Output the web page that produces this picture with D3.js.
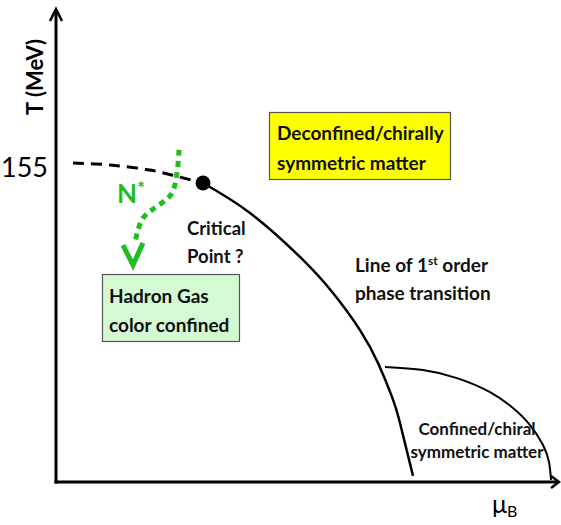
<!DOCTYPE html>
<html>
<head>
<meta charset="utf-8">
<script src="https://cdn.jsdelivr.net/npm/d3@7"></script>
<style>
  body { margin: 0; background: #fff; }
  svg text { font-family: Lato, "Open Sans", sans-serif; }
</style>
</head>
<body>
<div id="chart"></div>
<script>
/* Data (mu_B in arbitrary units, T in MeV) */

var tTicks = [155];

// crossover region (dashed), left of the critical point
var crossMu = [3.4, 10.8, 18.8, 24.8, 29.4];
var crossT  = [157.5, 156.5, 154.0, 150.5, 147.6];

var criticalMu = 29.4, criticalT = 147.6;

// line of 1st order phase transition
var firstMu = [29.4, 38.8, 48.8, 55.4, 60.8, 64.4, 67.2, 68.8, 71.4];
var firstT  = [147.6, 132.8, 111.1, 93.3, 75.0, 58.7, 42.0, 29.1, 3.0];

// confined / chiral symmetric region boundary
var domeMu = [65.8, 73.4, 80.2, 86.8, 91.4, 94.8, 97.4, 98.6, 99.0];
var domeT  = [56.8, 55.3, 51.3, 44.4, 36.5, 28.1, 18.3, 9.9, 1.0];

// N* path (green dotted arrow)
var nStarMu = [24.6, 24.2, 23.2, 21.4, 19.2, 17.4, 16.4, 15.8];
var nStarT  = [163.9, 152.5, 142.6, 138.2, 134.3, 130.3, 124.4, 118.0];
var nStarHeadMu = [13.4, 15.4, 17.4];
var nStarHeadT  = [116.9, 107.1, 118.0];

var width = 561, height = 525;

var x = d3.scaleLinear().domain([0, 100]).range([56, 556]);
var y = d3.scaleLinear().domain([0, 155]).range([482, 168]);

var svg = d3.select("#chart").append("svg")
	.attr("width", width)
	.attr("height", height);

svg.append("rect").attr("width", width).attr("height", height).attr("fill", "#fff");

function pts(mu, t) {
	return mu.map(function(d, i) { return [x(d), y(t[i])]; });
}

var smooth = d3.line().curve(d3.curveCatmullRom.alpha(0.5));
var spline = d3.line().curve(d3.curveNatural);
var straight = d3.line();

/* ------- Axes ------- */
var yTop = y.invert(8), xEnd = x.invert(560);

svg.append("path")
	.attr("d", straight([[x(0), y(0) + 1.5], [x(0), y(yTop) + 2]]))
	.attr("stroke", "#000").attr("stroke-width", 3).attr("fill", "none");
svg.append("path")
	.attr("d", straight([[x(0) - 6, y(yTop) + 13], [x(0), y(yTop) + 1], [x(0) + 6, y(yTop) + 13]]))
	.attr("stroke", "#000").attr("stroke-width", 2.5).attr("fill", "none");

svg.append("path")
	.attr("d", straight([[x(0) - 1.5, y(0)], [x(xEnd) - 2, y(0)]]))
	.attr("stroke", "#000").attr("stroke-width", 3).attr("fill", "none");
svg.append("path")
	.attr("d", straight([[x(xEnd) - 9, y(0) - 6], [x(xEnd) - 1, y(0)], [x(xEnd) - 9, y(0) + 6]]))
	.attr("stroke", "#000").attr("stroke-width", 2.5).attr("fill", "none");

var yAxis = d3.axisLeft(y).tickValues(tTicks).tickSize(0).tickPadding(8);
var gy = svg.append("g").attr("transform", "translate(" + x(0) + ",0)").call(yAxis);
gy.select(".domain").remove();
gy.selectAll("text")
	.attr("dy", "0.3em")
	.style("font-size", "27px")
	.style("font-family", "Lato, sans-serif")
	.attr("fill", "#000");

svg.append("text")
	.attr("transform", "translate(43,77) rotate(-90)")
	.attr("text-anchor", "middle")
	.style("font-size", "22px").style("font-weight", "bold")
	.text("T (MeV)");

var xl = svg.append("text")
	.attr("x", 492).attr("y", 513)
	.style("font-size", "25px");
xl.append("tspan").text("μ");
xl.append("tspan").attr("dy", 4).style("font-size", "16px").text("B");

/* ------- Phase lines ------- */
svg.append("path")
	.attr("d", smooth(pts(crossMu, crossT)))
	.attr("stroke", "#000").attr("stroke-width", 3)
	.attr("stroke-dasharray", "11,7").attr("fill", "none");

svg.append("path")
	.attr("d", spline(pts(firstMu, firstT)))
	.attr("stroke", "#000").attr("stroke-width", 2.5).attr("fill", "none");

svg.append("path")
	.attr("d", spline(pts(domeMu, domeT)))
	.attr("stroke", "#000").attr("stroke-width", 2).attr("fill", "none");

svg.append("circle")
	.attr("cx", x(criticalMu)).attr("cy", y(criticalT)).attr("r", 7.5)
	.attr("fill", "#000");

/* ------- N* arrow ------- */
var green = "#1fbd1f";
svg.append("path")
	.attr("d", smooth(pts(nStarMu, nStarT)))
	.attr("stroke", green).attr("stroke-width", 5)
	.attr("stroke-dasharray", "6,5").attr("fill", "none");
svg.append("path")
	.attr("d", straight(pts(nStarHeadMu, nStarHeadT)))
	.attr("stroke", green).attr("stroke-width", 5)
	.attr("stroke-linejoin", "miter").attr("fill", "none");

var ns = svg.append("text")
	.attr("x", 117).attr("y", 203)
	.attr("fill", green)
	.style("font-size", "26px").style("font-weight", "bold");
ns.append("tspan").text("N");
ns.append("tspan").attr("dy", -8).style("font-size", "19px").text("*");

/* ------- Labels ------- */
function box(x0, y0, w, h, fill) {
	svg.append("rect")
		.attr("x", x0).attr("y", y0).attr("width", w).attr("height", h)
		.attr("fill", fill).attr("stroke", "#555").attr("stroke-width", 1.2);
}

function label(lines, x0, y0, lh, size, anchor) {
	var t = svg.append("text")
		.attr("text-anchor", anchor || "start")
		.style("font-size", size + "px").style("font-weight", "bold")
		.attr("fill", "#111");
	lines.forEach(function(l, i) {
		t.append("tspan").attr("x", x0).attr("y", y0 + i * lh).text(l);
	});
	return t;
}

box(269.5, 112.5, 181, 67, "#ffff00");
label(["Deconfined/chirally", "symmetric matter"], 277, 140, 30, 19);

box(102.5, 274.5, 137, 67, "#d4fad4");
label(["Hadron Gas", "color confined"], 109, 303, 29, 19);

label(["Critical", "Point ?"], 187, 235, 28, 18.5);

var l1 = label([], 355, 272, 28, 19);
l1.append("tspan").attr("x", 355).attr("y", 272).text("Line of 1");
l1.append("tspan").attr("dy", -7).style("font-size", "12px").text("st");
l1.append("tspan").attr("dy", 7).text(" order");
l1.append("tspan").attr("x", 355).attr("y", 300).text("phase transition");

label(["Confined/chiral", "symmetric matter"], 477, 435, 23, 17, "middle");
</script>
</body>
</html>
